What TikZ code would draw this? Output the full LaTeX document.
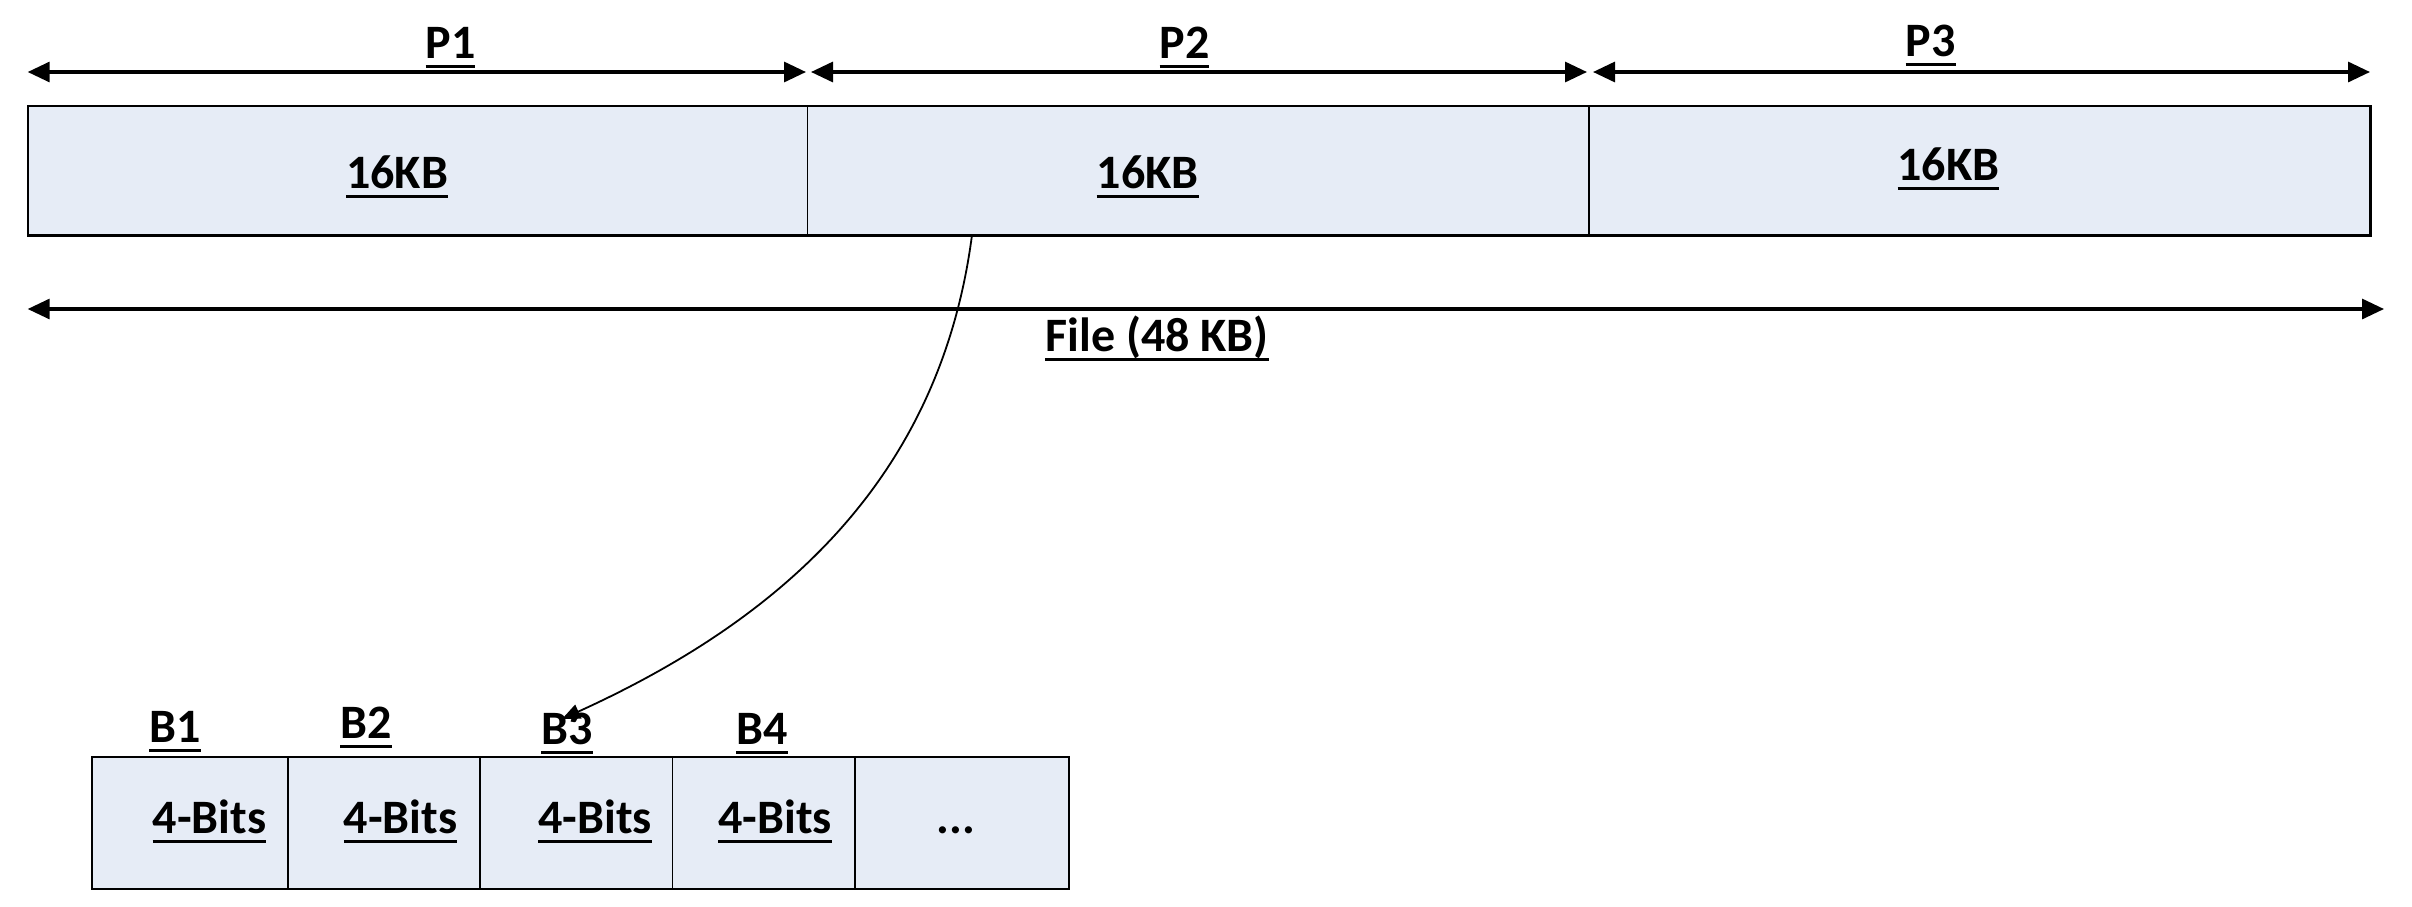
\documentclass[tikz,border=0pt]{standalone}
\usepackage{fontspec}
\setmainfont{Carlito}
\usetikzlibrary{arrows.meta}
\definecolor{boxfill}{HTML}{E6ECF6}
\newcommand\myul[1]{\setbox0\hbox{#1}\leavevmode\rlap{\vrule height -7pt depth 10pt width \wd0}\box0}
\begin{document}
\begin{tikzpicture}[x=1pt,y=-1pt,
  lbl/.style={font=\fontsize{48}{54}\selectfont\bfseries, inner sep=0pt, outer sep=0pt, anchor=base},
  cell/.style={draw=black, line width=2.2pt, fill=boxfill, inner sep=0pt, outer sep=0pt},
  dim/.style={line width=3.2pt, {Triangle[length=22pt,width=20pt]}-{Triangle[length=22pt,width=20pt]}},
  link/.style={line width=1.8pt, -{Triangle[length=18pt,width=15pt]}}
  ]
\useasboundingbox (0,0) rectangle (2412,906);
% top cells
\draw[cell] (27.7,106) rectangle (2370.5,235.4);
\draw[line width=1.6pt] (807.6,106) -- (807.6,235.4);
\draw[line width=1.6pt] (1589,106) -- (1589,235.4);
\node[lbl] (k1) at (397,188) {\myul{16KB}};
\node[lbl] (k2) at (1147.6,188) {\myul{16KB}};
\node[lbl] (k3) at (1948.5,180) {\myul{16KB}};
% dimension arrows
\coordinate (a0) at (27.7,72);
\coordinate (a1) at (806,72);
\coordinate (a2) at (811,72);
\coordinate (a3) at (1587,72);
\coordinate (a4) at (1593,72);
\coordinate (a5) at (2370,72);
\draw[dim] (a0) -- (a1);
\draw[dim] (a2) -- (a3);
\draw[dim] (a4) -- (a5);
\node[lbl] (p1) at (450.5,58) {\myul{P1}};
\node[lbl] (p2) at (1184.5,58) {\myul{P2}};
\node[lbl] (p3) at (1930.6,56) {\myul{P3}};
\coordinate (f0) at (27.7,309);
\coordinate (f1) at (2384,309);
\draw[dim] (f0) -- (f1);
\node[lbl] (file) at (1157,351) {\myul{File (48 KB)}};
% bottom cells
\draw[cell] (92.3,757) rectangle (1069,889);
\foreach \x in {288,480,672.5,855}{\draw[line width=1.6pt] (\x,757) -- (\x,889);}
\node[lbl] (b1) at (175,742) {\myul{B1}};
\node[lbl] (b2) at (366,738) {\myul{B2}};
\node[lbl] (b3) at (567,744) {\myul{B3}};
\node[lbl] (b4) at (762,744) {\myul{B4}};
\node[lbl] (v1) at (209.5,833) {\myul{4-Bits}};
\node[lbl] (v2) at (400.5,833) {\myul{4-Bits}};
\node[lbl] (v3) at (595,833) {\myul{4-Bits}};
\node[lbl] (v4) at (775,833) {\myul{4-Bits}};
\node[lbl] (v5) at (956,833) {...};
% curved link
\coordinate (src) at (972,235);
\coordinate (dst) at (562,719);
\draw[link] (src) .. controls (940,480) and (780,620) .. (dst);
\end{tikzpicture}
\end{document}
